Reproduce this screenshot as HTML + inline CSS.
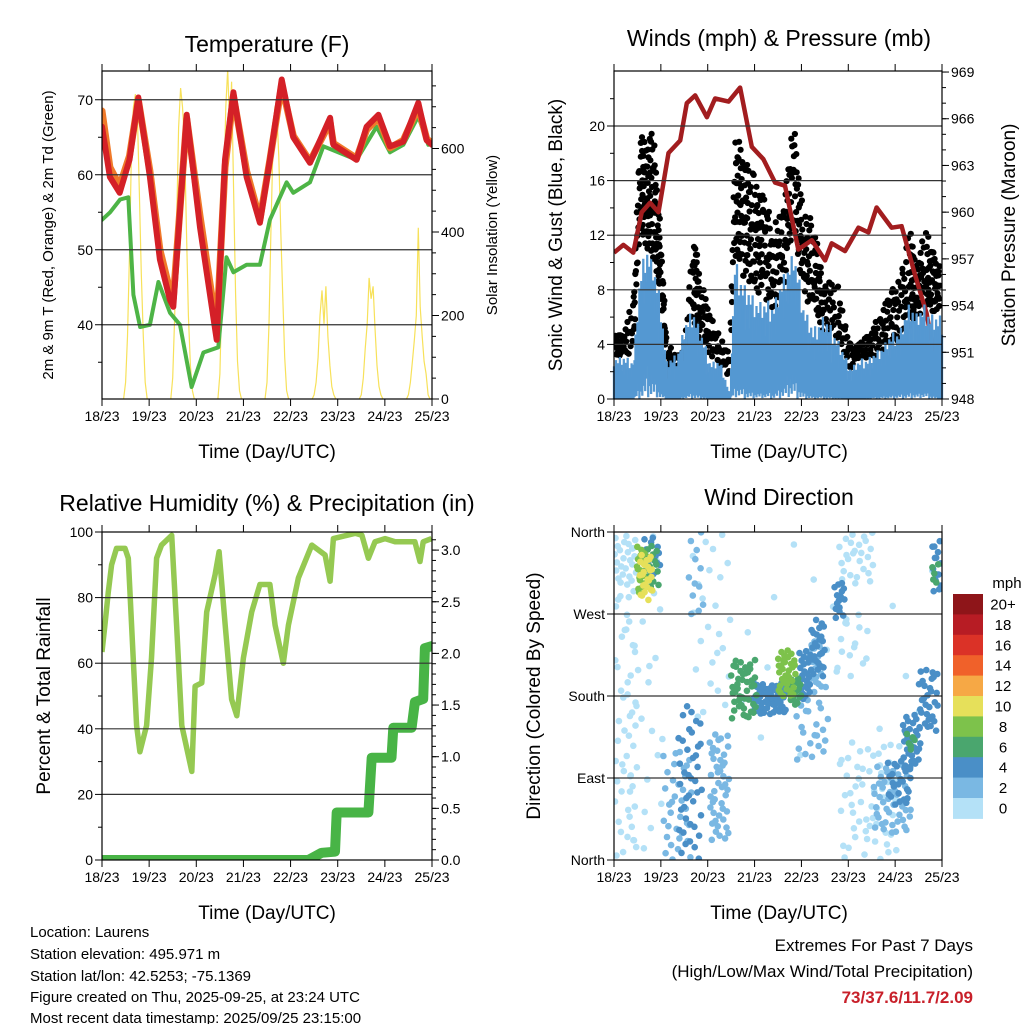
<!DOCTYPE html>
<html><head><meta charset="utf-8">
<style>
html,body{margin:0;padding:0;background:#fff;}
svg{display:block;font-family:"Liberation Sans",Arial,sans-serif;}
</style></head>
<body>
<svg id="root" width="1024" height="1024" viewBox="0 0 1024 1024" xmlns="http://www.w3.org/2000/svg">
<rect width="1024" height="1024" fill="#fff"/>
<text x="267" y="52" font-size="23" text-anchor="middle">Temperature (F)</text>
<text x="779" y="46" font-size="23" text-anchor="middle">Winds (mph) &amp; Pressure (mb)</text>
<text x="267" y="511" font-size="23" text-anchor="middle">Relative Humidity (%) &amp; Precipitation (in)</text>
<text x="779" y="505" font-size="23" text-anchor="middle">Wind Direction</text>
<text x="267" y="458" font-size="19" text-anchor="middle">Time (Day/UTC)</text>
<text x="779" y="458" font-size="19" text-anchor="middle">Time (Day/UTC)</text>
<text x="267" y="919" font-size="19" text-anchor="middle">Time (Day/UTC)</text>
<text x="779" y="919" font-size="19" text-anchor="middle">Time (Day/UTC)</text>
<text transform="translate(53,235) rotate(-90)" font-size="15" text-anchor="middle">2m &amp; 9m T (Red, Orange) &amp; 2m Td (Green)</text>
<text transform="translate(497,235) rotate(-90)" font-size="15" text-anchor="middle">Solar Insolation (Yellow)</text>
<text transform="translate(562,235) rotate(-90)" font-size="19" text-anchor="middle">Sonic Wind &amp; Gust (Blue, Black)</text>
<text transform="translate(1015,235) rotate(-90)" font-size="19" text-anchor="middle">Station Pressure (Maroon)</text>
<text transform="translate(50,696) rotate(-90)" font-size="19" text-anchor="middle">Percent &amp; Total Rainfall</text>
<text transform="translate(540,696) rotate(-90)" font-size="19" text-anchor="middle">Direction (Colored By Speed)</text>
<g font-size="15">
<text x="30" y="937">Location: Laurens</text>
<text x="30" y="959">Station elevation: 495.971 m</text>
<text x="30" y="981">Station lat/lon: 42.5253; -75.1369</text>
<text x="30" y="1002">Figure created on Thu, 2025-09-25, at 23:24 UTC</text>
<text x="30" y="1024" dy="-1">Most recent data timestamp: 2025/09/25 23:15:00</text>
</g>
<text x="973" y="951" font-size="17" text-anchor="end">Extremes For Past 7 Days</text>
<text x="973" y="977" font-size="17" text-anchor="end">(High/Low/Max Wind/Total Precipitation)</text>
<text x="973" y="1003" font-size="17" font-weight="bold" fill="#c8202a" text-anchor="end">73/37.6/11.7/2.09</text>
<text x="1007" y="588" font-size="15" text-anchor="middle">mph</text>
</svg>
<script>
// ---------- data ----------
var dayLabels = ["18/23","19/23","20/23","21/23","22/23","23/23","24/23","25/23"];
var tempHours = [0,4,9,14,18.5,24.4,29.5,34.6,36.3,43.1,49.9,58.4,62.6,66.9,73.6,80.4,85.5,91.5,97.4,105.9,116.1,117.8,129.6,134.7,140.7,146.6,153.4,161,165.3,168];
var tempRed =   [66.4,59.7,57.6,62,70.3,59.7,48.7,43.3,42.4,68,53,38,62,71,59.7,53.6,62,72.7,65,61.6,67.6,64,62,66.4,68,63.8,64.4,69.6,64.6,64];
var tempOrange =[68.5,61,58.5,62.5,70,60.5,50,44.5,43.5,67.5,54.5,39.5,61,70.5,60.5,54,62,72,65.2,61.8,67,64.2,62.2,66,67.6,63.6,64.6,69,64.8,64.2];
var dewHours = [0,4.1,9.2,13.4,16,19.4,24.4,28.7,34.6,39.7,45.6,51.6,59.2,63.4,66.9,73.6,80.4,85.5,94,97.4,105.9,112.7,129.6,139.8,146.6,153.4,161,166.1,168];
var dewGreen = [54,55,56.7,57,44,39.7,40,45.7,41.6,40,31.7,36.3,37,49,47,48,48,54,59,57.6,59,63.8,62,66.4,63,64,67.8,64,64.5];
var solarStart = [11,35,59,83,107,131,155];
var solarDays = [
 [0,40,150,350,600,700,730,680,500,300,150,40,0],
 [0,50,200,420,650,745,700,620,400,200,80,20,0],
 [0,60,250,500,700,790,650,760,500,250,90,20,0],
 [0,40,180,400,600,700,690,580,400,250,100,20,0],
 [0,10,40,100,200,260,180,270,150,80,30,10,0],
 [0,10,50,120,180,290,240,270,170,80,30,10,0],
 [0,10,40,90,140,200,410,220,150,90,60,10,0]];
var windHours = [0.5,4.8,9.9,13.3,16.7,20.1,23.6,27,32.1,36.4,40.6,44,49.2,54.3,59.4,62,66.2,71.4,76.5,81.6,86.7,91.9,97,102.1,107.2,114.1,120.9,126,131.1,136.3,141.4,146.5,151.6,155,159.3,163.6,167];
var windHi = [3.3,3.3,2.9,9.2,11.6,10.2,7.7,2.9,3.3,5.8,6.8,5.3,2.9,2.9,0.4,10.2,9.0,7.7,7.3,7.3,9.2,11.1,7.3,5.3,6.3,4.8,2.4,2.9,3.3,3.8,4.8,5.3,7.3,6.5,7.0,6.5,6.3];
var windLo = [0,0,0,2.5,4.5,3.5,1.2,0,0,0.5,1.2,0.6,0,0,0,2.5,1.8,1.2,1.0,1.2,2.5,3.5,1.2,0.4,0.5,0.2,0,0,0.2,0.5,0.6,0.8,1.2,1.0,1.2,0.6,0];
var gustHi = [4.8,5.3,7.7,19.3,19.0,19.7,13.1,4.1,3.3,4.1,12.9,9.0,6.3,4.5,3.3,19.5,18.2,16.5,15.1,12.6,14.3,20.4,13.8,13.1,8.7,8.7,4.1,4.1,5.3,6.3,7.7,9.2,12.6,9.7,12.6,11.1,9.7];
var gustLo = [2.9,3.3,3.3,12.6,11.1,10.2,7.7,1.6,1.6,1.9,5.3,4.1,3.3,2.4,1.6,10.2,9.0,7.7,7.7,6.3,7.7,12.6,7.7,6.3,4.8,4.1,2.1,2.9,2.9,3.3,4.1,4.1,5.3,5.8,6.5,6.3,6.3];
var presHours = [0,4.8,9.9,14.2,18.5,22.8,27.9,33.9,37.3,41.6,47.6,51.8,58.7,64.6,70.6,76.5,82.5,87.6,94.4,101.3,108.1,111.5,118.3,125.2,130.3,134.5,142.2,147.3,154.1,160.1,164.4,166.9,169];
var pressure = [957.4,957.9,957.4,960,960.6,960,963.8,964.6,967,967.5,966.1,967.3,967.1,968,964.2,963.4,961.9,961.7,957.6,958.2,956.9,958,957.5,959,958.7,960.3,959,959.1,956,953.5,950.5,949.1,949.7];
var rhHours = [0,1.5,3.2,4.9,7.4,11.7,13.4,15.9,17.6,19.3,22.7,25.2,27.8,30.3,35.5,38,40.6,45.7,47.4,50.8,53.3,57.6,59.6,62.7,66,68.6,72,76.2,80.4,85.5,88.1,92.3,94.9,100,106.8,113.6,116.1,117.8,128.9,132.3,135.6,139,144.1,149.2,159.3,161.9,163.5,167.8];
var rhValues = [63.4,71.6,81.7,90,95,95,92,61.6,41,33,41,61.6,92,96,99,71.6,41,27,53,54,75.6,87,94,71.6,49,44,61.6,75.6,84,84,71.6,60,71.6,86,96,93,85,98,99.6,99,92,97,98,97,97,91,97,98];
var precipHours = [0,105,111.8,118.6,119.5,135.6,137.3,147.4,148.3,157.6,159.3,163.5,164.4,167.8];
var precipValues = [0,0,0.07,0.08,0.46,0.46,0.99,0.99,1.28,1.28,1.53,1.56,2.05,2.07];
// wind direction clusters: time range (h), direction range (deg), speed (mph), count
var dirH0 =   [0,0,0,11.6,13,16,15,6,25,33,38,49,40,60,71,84,90,95,101,100,92,113,115,112,116,133,140,148,156,150,163,163,60];
var dirH1 =   [12,12,12,16,20,23,24,25,40,45,46,59,60,73,88,93,96,101,108,107,110,118,133,130,145,152,152,157,166,154,168,167,168];
var dirD0 =   [300,150,0,290,285,300,310,0,0,0,270,20,150,155,160,180,170,175,200,190,110,265,300,200,0,30,60,100,140,120,295,300,100];
var dirD1 =   [360,300,150,345,335,350,355,360,120,170,360,140,360,220,195,230,200,230,265,240,190,305,360,280,130,105,110,160,210,140,350,330,360];
var dirSpeed =[1,0.5,1,8,10,7,4,1,2,4,3,2,1,7,4,8,6,4,4,3,2,4,1,1,1,2,4,4,4,6,4,6,0.5];
var dirCount =[25,20,25,20,25,15,15,30,35,40,12,45,25,45,60,35,20,25,25,20,25,15,25,15,55,50,25,30,30,6,15,5,20];
var legendLabels = ["20+","18","16","14","12","10","8","6","4","2","0"];
var legendColors = ["#8e1519","#b71c24","#db3227","#f0612a","#f6a845","#e6e05a","#7dc24b","#4aa66e","#4a8fc7","#7ab8e3","#b4e1f7"];

// ---------- helpers ----------
var NS = "http://www.w3.org/2000/svg";
var root = document.getElementById("root");
function mk(tag, attrs, parent){
  var e = document.createElementNS(NS, tag);
  for (var k in attrs) e.setAttribute(k, attrs[k]);
  (parent || root).appendChild(e);
  return e;
}
function halton(i, b){ var f=1, r=0; while(i>0){ f/=b; r+=f*(i%b); i=Math.floor(i/b);} return r; }
function interp(xs, ys, x){
  if (x<=xs[0]) return ys[0];
  for (var i=1;i<xs.length;i++) if (x<=xs[i]) { var t=(x-xs[i-1])/(xs[i]-xs[i-1]); return ys[i-1]+t*(ys[i]-ys[i-1]); }
  return ys[ys.length-1];
}
function speedColor(s){ var idx = Math.min(10, Math.floor(s/2)); return legendColors[10-idx]; }

var panels = {
  temp: {x0:102,x1:432,y0:71,y1:399},
  wind: {x0:614,x1:942,y0:71,y1:399},
  rh:   {x0:102,x1:432,y0:532,y1:860},
  dir:  {x0:614,x1:942,y0:532,y1:860}
};
function xs(p, h){ return p.x0 + h/168*(p.x1-p.x0); }
function tempY(t){ return 399 - (t-30.1)*7.5; }
function solarY(s){ return 399 - s*83.5/200; }
function windY(m){ return 399 - m*13.65; }
function presY(p){ return 399 - (p-948)*15.57; }
function rhY(r){ return 860 - r*3.28; }
function precY(v){ return 860 - v*103.3; }
function dirY(d){ return 860 - d*328/360; }

function clip(id, p){
  var defs = mk("defs", {});
  
  
  var cp = mk("clipPath", {id:id}, defs);
  mk("rect", {x:p.x0, y:p.y0, width:p.x1-p.x0, height:p.y1-p.y0}, cp);
}
clip("cTemp", panels.temp); clip("cWind", panels.wind); clip("cRh", panels.rh); clip("cDir", panels.dir);

function gridAndAxes(name, p, gridVals, yf, lTicks, lLabels, lMinor, rf, rTicks, rLabels, rMinor){
  var g = mk("g", {});
  
  
  gridVals.forEach(function(v){
    var y = yf(v);
    var ln = mk("line", {x1:p.x0, x2:p.x1, y1:y, y2:y, stroke:"#333", "stroke-width":1.2}, g);
    
    
  });
  var fr = mk("rect", {x:p.x0, y:p.y0, width:p.x1-p.x0, height:p.y1-p.y0, fill:"none", stroke:"#000", "stroke-width":1.2}, g);
  
  
  for (var d=0; d<8; d++){
    var x = xs(p, d*24);
    mk("line", {x1:x,x2:x,y1:p.y1,y2:p.y1+7,stroke:"#000","stroke-width":1}, g);
    mk("line", {x1:x,x2:x,y1:p.y0,y2:p.y0-7,stroke:"#000","stroke-width":1}, g);
    var t = mk("text", {x:x, y:p.y1+22, "font-size":14, "text-anchor":"middle"}, g);
    t.textContent = dayLabels[d];
    
    
  }
  lMinor.forEach(function(v){ var y=yf(v); mk("line",{x1:p.x0-4,x2:p.x0,y1:y,y2:y,stroke:"#000","stroke-width":1},g); });
  lTicks.forEach(function(v,i){
    var y=yf(v);
    mk("line",{x1:p.x0-7,x2:p.x0,y1:y,y2:y,stroke:"#000","stroke-width":1},g);
    var t = mk("text",{x:p.x0-9,y:y+5,"font-size":14,"text-anchor":"end"},g);
    t.textContent = lLabels[i];
    
    
  });
  if (rf){
    rMinor.forEach(function(v){ var y=rf(v); mk("line",{x1:p.x1,x2:p.x1+4,y1:y,y2:y,stroke:"#000","stroke-width":1},g); });
    rTicks.forEach(function(v,i){
      var y=rf(v);
      mk("line",{x1:p.x1,x2:p.x1+7,y1:y,y2:y,stroke:"#000","stroke-width":1},g);
      var t = mk("text",{x:p.x1+9,y:y+5,"font-size":14,"text-anchor":"start"},g);
      t.textContent = rLabels[i];
      
      
    });
  }
}
function range(a,b,s){ var r=[]; for(var v=a; v<=b+1e-9; v+=s) r.push(+v.toFixed(3)); return r; }

// ---------- panel 1: temperature ----------
(function(){
  var p = panels.temp;
  var g = mk("g", {"clip-path":"url(#cTemp)"});
  
  
  solarDays.forEach(function(arr, di){
    var pts = arr.map(function(v,i){ return xs(p, Math.min(168, solarStart[di]+i)).toFixed(1)+","+solarY(v).toFixed(1); }).join(" ");
    var pl = mk("polyline", {points:pts, fill:"none", stroke:"#f7e15a", "stroke-width":1.2}, g);
    
    
  });
  function line(hs, vs, color, w, nm){
    var pts = hs.map(function(h,i){ return xs(p,h).toFixed(1)+","+tempY(vs[i]).toFixed(1); }).join(" ");
    var pl = mk("polyline", {points:pts, fill:"none", stroke:color, "stroke-width":w, "stroke-linejoin":"round", "stroke-linecap":"round"}, g);
    
    
  }
  line(dewHours, dewGreen, "#4db446", 4, "dewpoint-line");
  line(tempHours, tempOrange, "#f07a2a", 7, "temp-9m-line");
  line(tempHours, tempRed, "#d42027", 6, "temp-2m-line");
  gridAndAxes("temp", p, [40,50,60,70], tempY, [40,50,60,70], ["40","50","60","70"], [35,45,55,65],
    solarY, [0,200,400,600], ["0","200","400","600"], range(50,750,50));
})();

// ---------- panel 2: wind ----------
(function(){
  var p = panels.wind;
  var g = mk("g", {"clip-path":"url(#cWind)"});
  
  
  for (var i=0;i<windHours.length-1;i++){
    var n = Math.round(10 + (gustHi[i]-gustLo[i])*3);
    for (var k=1;k<=n;k++){
      var idx = i*80+k;
      var h = windHours[i] + halton(idx,2)*(windHours[i+1]-windHours[i]);
      var lo = interp(windHours, gustLo, h), hi = interp(windHours, gustHi, h);
      var m = lo + halton(idx,3)*(hi-lo);
      var c = mk("circle", {cx:xs(p,h).toFixed(1), cy:windY(m).toFixed(1), r:3.1, fill:"#000"}, g);
      
      
    }
  }
  var wg = mk("g", {stroke:"#5598d2", "stroke-width":2.3});
  
  
  for (var j=0; j<=168*2; j++){
    var hh = j/2;
    var lo2 = interp(windHours, windLo, hh), hi2 = interp(windHours, windHi, hh);
    var hq = halton(j+1,2);
    var top = lo2 + (hi2-lo2)*(0.45+0.55*hq);
    var bot = lo2*halton(j+1,3)*0.6;
    var sl = mk("line", {x1:xs(p,hh).toFixed(1), x2:xs(p,hh).toFixed(1), y1:windY(bot).toFixed(1), y2:windY(top).toFixed(1)}, wg);
    
    
  }
  var pts = presHours.map(function(h,i){ return xs(p,Math.min(h,168)).toFixed(1)+","+presY(pressure[i]).toFixed(1); }).join(" ");
  var pl = mk("polyline", {points:pts, fill:"none", stroke:"#a21d1f", "stroke-width":4.5, "stroke-linejoin":"round"}, g);
  
  
  gridAndAxes("wind", p, [4,8,12,16,20], windY, [0,4,8,12,16,20], ["0","4","8","12","16","20"], [2,6,10,14,18,22],
    presY, [948,951,954,957,960,963,966,969], ["948","951","954","957","960","963","966","969"], range(948,969,1));
})();

// ---------- panel 3: RH & precip ----------
(function(){
  var p = panels.rh;
  var g = mk("g", {"clip-path":"url(#cRh)"});
  
  
  var pts = rhHours.map(function(h,i){ return xs(p,h).toFixed(1)+","+rhY(rhValues[i]).toFixed(1); }).join(" ");
  var pl = mk("polyline", {points:pts, fill:"none", stroke:"#95c952", "stroke-width":5.5, "stroke-linejoin":"round"}, g);
  
  
  var pts2 = precipHours.map(function(h,i){ return xs(p,h).toFixed(1)+","+precY(precipValues[i]).toFixed(1); }).join(" ");
  var pl2 = mk("polyline", {points:pts2, fill:"none", stroke:"#48b446", "stroke-width":10, "stroke-linejoin":"round", "stroke-linecap":"round"}, g);
  
  
  gridAndAxes("rh", p, [20,40,60,80], rhY, [0,20,40,60,80,100], ["0","20","40","60","80","100"], [10,30,50,70,90],
    precY, [0,0.5,1,1.5,2,2.5,3], ["0.0","0.5","1.0","1.5","2.0","2.5","3.0"], range(0,3.1,0.1));
})();

// ---------- panel 4: wind direction ----------
(function(){
  var p = panels.dir;
  var g = mk("g", {"clip-path":"url(#cDir)"});
  
  
  var order = dirSpeed.map(function(s,i){return i;}).sort(function(a,b){return dirSpeed[a]-dirSpeed[b];});
  order.forEach(function(ci){
    for (var k=1;k<=dirCount[ci];k++){
      var idx = ci*97+k;
      var h = dirH0[ci] + halton(idx,2)*(dirH1[ci]-dirH0[ci]);
      var d = dirD0[ci] + halton(idx,3)*(dirD1[ci]-dirD0[ci]);
      var c = mk("circle", {cx:xs(p,h).toFixed(1), cy:dirY(d).toFixed(1), r:3.3, fill:speedColor(dirSpeed[ci])}, g);
      
      
    }
  });
  gridAndAxes("dir", p, [90,180,270], dirY, [0,90,180,270,360], ["North","East","South","West","North"], [], null);
  var lg = mk("g", {});
  
  
  legendLabels.forEach(function(lab,i){
    var y = 594 + i*20.4;
    var r = mk("rect", {x:953, y:y.toFixed(1), width:30, height:20.9, fill:legendColors[i]}, lg);
    
    
    var t = mk("text", {x:1003, y:(y+15.5).toFixed(1), "font-size":15, "text-anchor":"middle"}, lg);
    t.textContent = lab;
    
    
  });
})();
</script>
</body></html>
